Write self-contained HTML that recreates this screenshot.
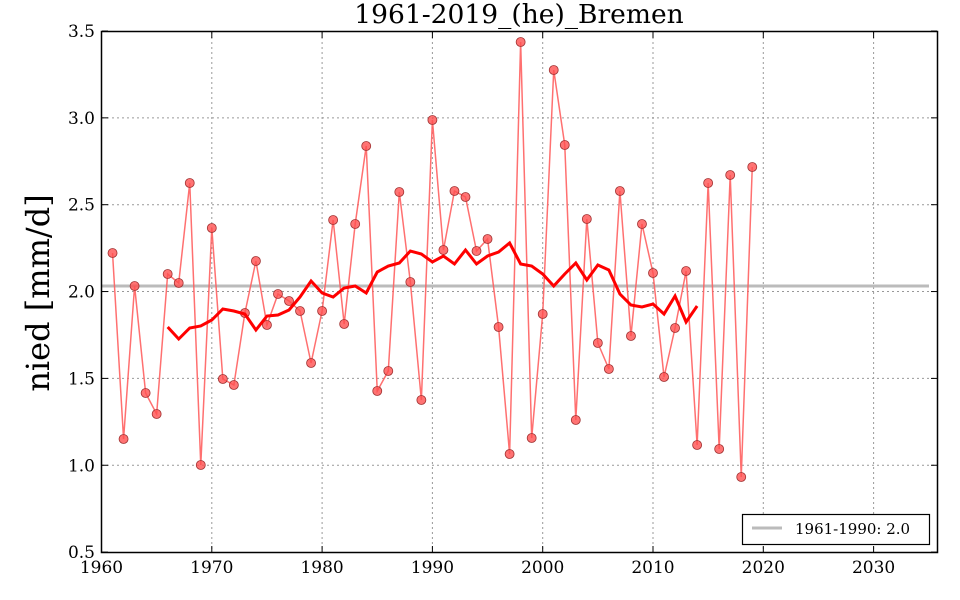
<!DOCTYPE html>
<html><head><meta charset="utf-8"><style>
html,body{margin:0;padding:0;background:#fff;}
svg{display:block;font-family:"DejaVu Serif","Liberation Serif",serif;}
</style></head><body>
<svg id="s" width="960" height="600" xmlns="http://www.w3.org/2000/svg">
<rect width="960" height="600" fill="#fff"/>
<g id="grid" stroke="#999" stroke-dasharray="2,3" stroke-width="1"></g>
<line x1="101" y1="286" x2="929" y2="286" stroke="#bbb" stroke-width="3"/>
<polyline id="raw" fill="none" stroke="#ff6060" stroke-width="1.5" opacity="0.9"/>
<g id="pts"></g>
<polyline id="ma" fill="none" stroke="#ff0000" stroke-width="3"/>
<rect x="101.5" y="31.5" width="836" height="521" fill="none" stroke="#000" stroke-width="1.5"/>
<g id="ticks" stroke="#000" stroke-width="1"></g>
<g id="labels" font-size="17" fill="#000"></g>
<text x="519" y="23" font-size="26.5" text-anchor="middle">1961-2019_(he)_Bremen</text>
<text transform="translate(49,293) rotate(-90)" font-size="32" text-anchor="middle">nied [mm/d]</text>
<rect x="742.5" y="514.5" width="187" height="30" fill="#fff" stroke="#000" stroke-width="1.2"/>
<line x1="752" y1="528" x2="782" y2="528" stroke="#bbb" stroke-width="3"/>
<text x="795" y="534" font-size="15">1961-1990: 2.0</text>
</svg>
<script>
const X=y=>101.5+(y-1960)*11.03, Y=v=>31+(3.5-v)*173.7;
const ns="http://www.w3.org/2000/svg";
function el(p,t,a,txt){const e=document.createElementNS(ns,t);for(const k in a)e.setAttribute(k,a[k]);if(txt)e.textContent=txt;document.getElementById(p).appendChild(e);}
for(let y=1970;y<=2030;y+=10)el("grid","line",{x1:X(y),y1:32,x2:X(y),y2:552});
for(let v=1.0;v<=3.01;v+=0.5)el("grid","line",{x1:102,y1:Y(v),x2:937,y2:Y(v)});
for(let y=1960;y<=2030;y+=10){el("ticks","line",{x1:X(y),y1:552,x2:X(y),y2:546});el("ticks","line",{x1:X(y),y1:32,x2:X(y),y2:38});el("labels","text",{x:X(y),y:573,"text-anchor":"middle"},String(y));}
for(let v=0.5;v<=3.51;v+=0.5){el("ticks","line",{x1:102,y1:Y(v),x2:108,y2:Y(v)});el("ticks","line",{x1:937,y1:Y(v),x2:931,y2:Y(v)});el("labels","text",{x:95,y:Y(v)+6,"text-anchor":"end"},v.toFixed(1));}
const py=[253,439,286,393,414,274,283,183,465,228,379,385,313,261,325,294,301,311,363,311,220,324,224,146,391,371,192,282,400,120,250,191,197,251,239,327,454,42,438,314,70,145,420,219,343,369,191,336,224,273,377,328,271,445,183,449,175,477,167];
let pts=[];py.forEach((p,i)=>{const x=X(1961+i);pts.push(x+","+p);el("pts","circle",{cx:x,cy:p,r:4.5,fill:"#ff5050","fill-opacity":0.8,stroke:"#a03030","stroke-width":0.8});});
document.getElementById("raw").setAttribute("points",pts.join(" "));
const ma=[327,339,328,326,320,309,311,314,330,316,315,310,297,281,293,297,288,286,293,272,266,263,251,254,262,256,264,250,264,256,252,243,264,266,274,286,274,263,280,265,270,294,305,307,304,314,296,322,306];
document.getElementById("ma").setAttribute("points",ma.map((p,i)=>X(1966+i)+","+p).join(" "));
</script>
</body></html>
